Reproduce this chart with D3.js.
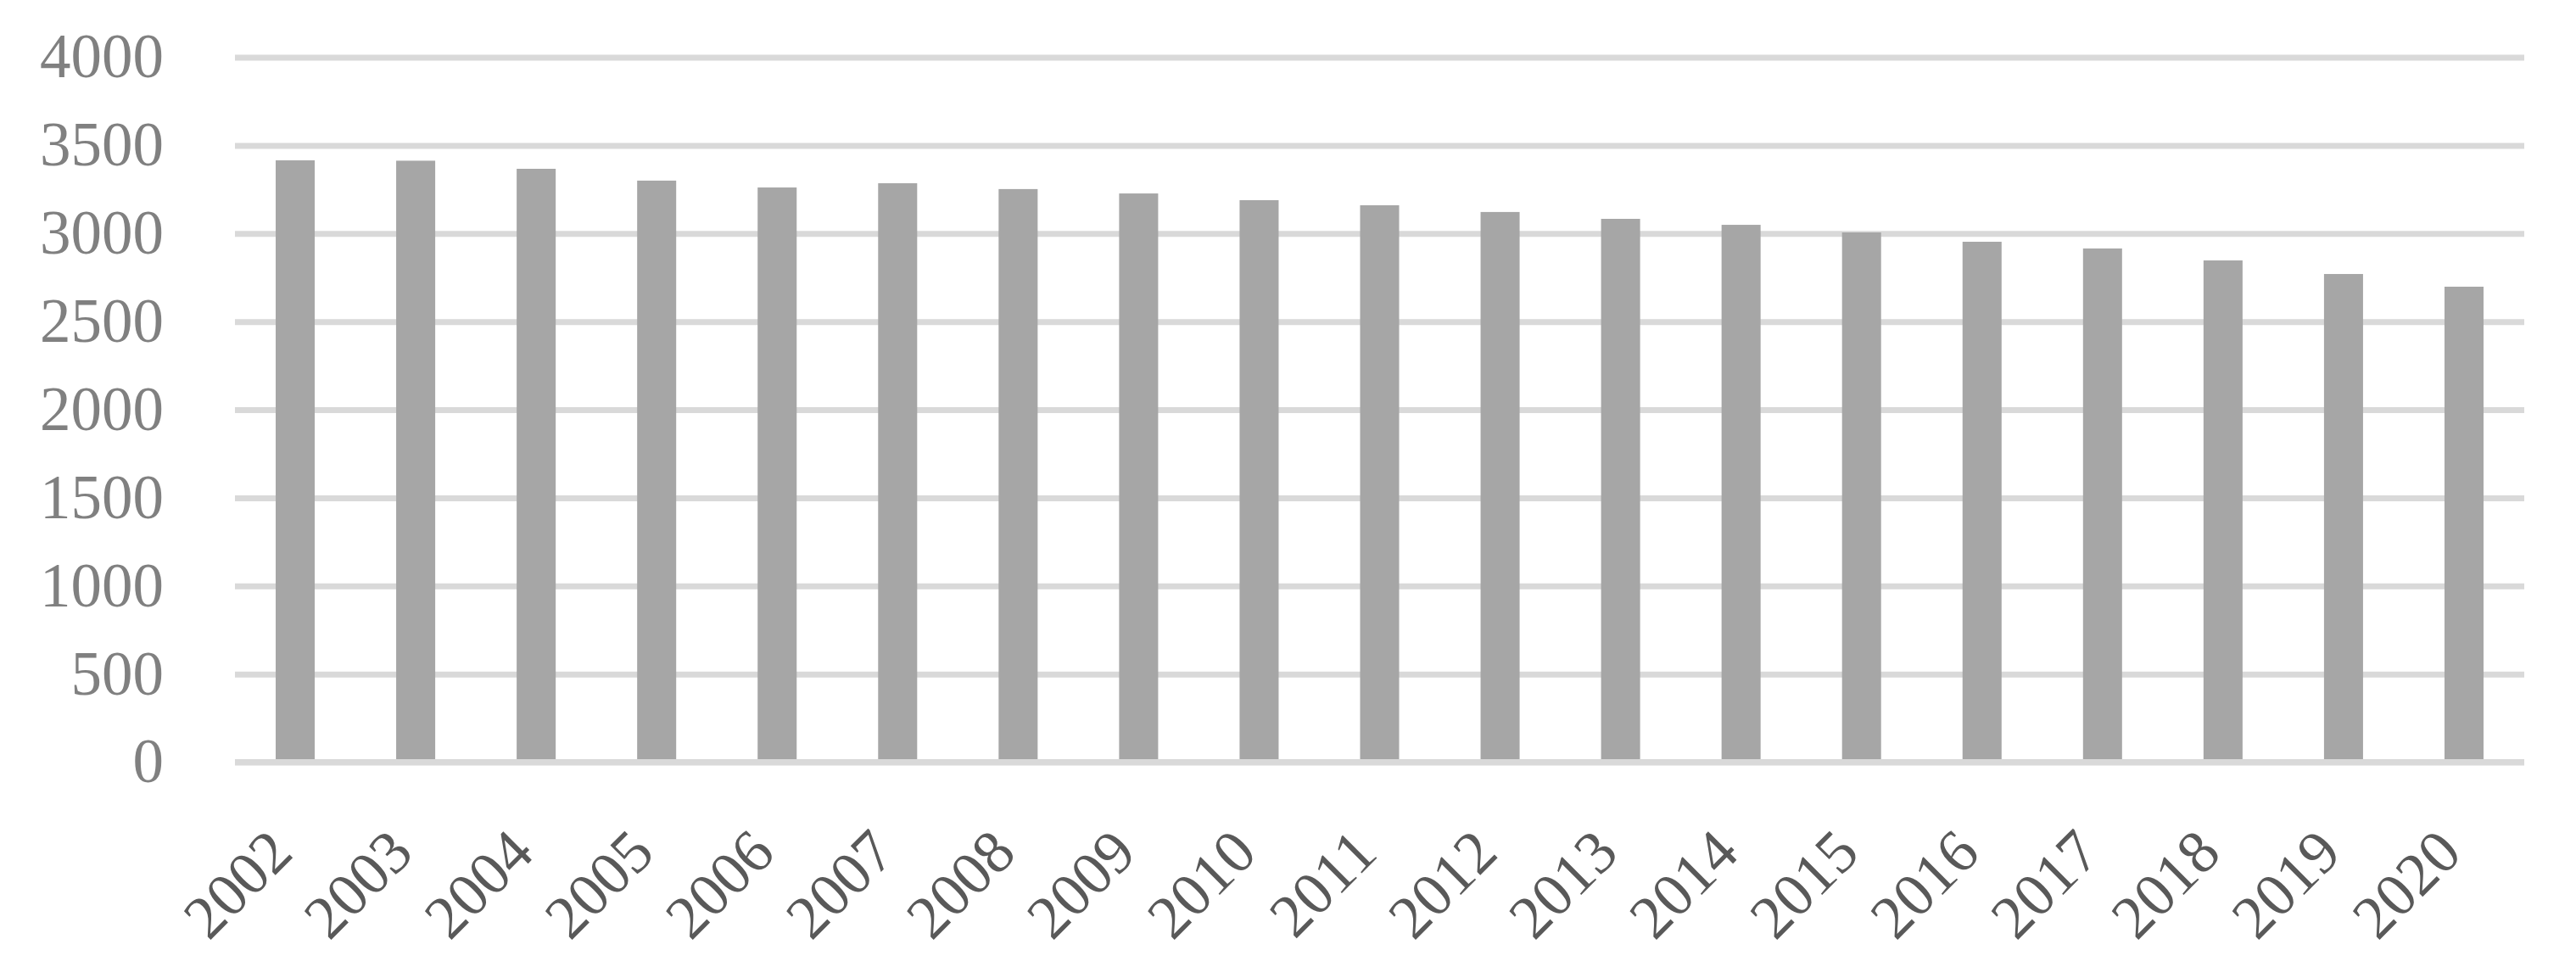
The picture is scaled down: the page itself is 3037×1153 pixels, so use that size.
<!DOCTYPE html>
<html>
<head>
<meta charset="utf-8">
<script src="https://cdn.jsdelivr.net/npm/d3@7"></script>
<style>
  html, body { margin: 0; padding: 0; background: #ffffff; }
  svg { display: block; }
</style>
</head>
<body>
<script>
const categories = ["2002","2003","2004","2005","2006","2007","2008","2009","2010","2011","2012","2013","2014","2015","2016","2017","2018","2019","2020"];
const values = [3415, 3413, 3367, 3300, 3261, 3285, 3252, 3227, 3189, 3160, 3122, 3083, 3049, 3006, 2953, 2915, 2847, 2770, 2698];
const yTicks = [0, 500, 1000, 1500, 2000, 2500, 3000, 3500, 4000];

const W = 3037, H = 1153;
const margin = { left: 277, right: W - 2976, top: 67.5, bottom: H - 898.5 };
const innerW = W - margin.left - margin.right;
const innerH = H - margin.top - margin.bottom;

const svg = d3.select("body").append("svg")
  .attr("width", W).attr("height", H)
  .style("background", "#ffffff");

const g = svg.append("g").attr("transform", `translate(${margin.left},${margin.top})`);

const x = d3.scaleBand().domain(categories).range([0, innerW])
  .paddingInner(0.676).paddingOuter(0.338);
const y = d3.scaleLinear().domain([0, 4000]).range([innerH, 0]);

const font = "'Liberation Serif', 'Times New Roman', serif";

// Y axis with gridlines
const yAxis = g.append("g")
  .call(d3.axisLeft(y).tickValues(yTicks).tickSize(-innerW).tickPadding(84).tickFormat(d3.format("d")));
yAxis.select(".domain").remove();
yAxis.selectAll(".tick line").attr("stroke", "#d9d9d9").attr("stroke-width", 7);
yAxis.selectAll(".tick text")
  .attr("fill", "#808080")
  .style("font-family", font)
  .style("font-size", "73px");

// Bars
g.append("g").selectAll("rect")
  .data(values)
  .join("rect")
  .attr("x", (d, i) => x(categories[i]))
  .attr("width", x.bandwidth())
  .attr("y", d => y(d))
  .attr("height", d => y(0) - y(d))
  .attr("fill", "#a6a6a6");

// X axis
const xAxis = g.append("g").attr("transform", `translate(0,${innerH})`)
  .call(d3.axisBottom(x).tickSize(0));
xAxis.select(".domain").remove();
xAxis.selectAll(".tick text")
  .attr("x", 0).attr("y", 0).attr("dy", 0)
  .attr("text-anchor", "end")
  .attr("transform", "translate(0,110) rotate(-45)")
  .attr("fill", "#595959")
  .style("font-family", font)
  .style("font-size", "72px");

// Zero baseline drawn on top of bars
g.append("line")
  .attr("x1", 0).attr("x2", innerW)
  .attr("y1", y(0)).attr("y2", y(0))
  .attr("stroke", "#d9d9d9").attr("stroke-width", 7);
</script>
</body>
</html>
